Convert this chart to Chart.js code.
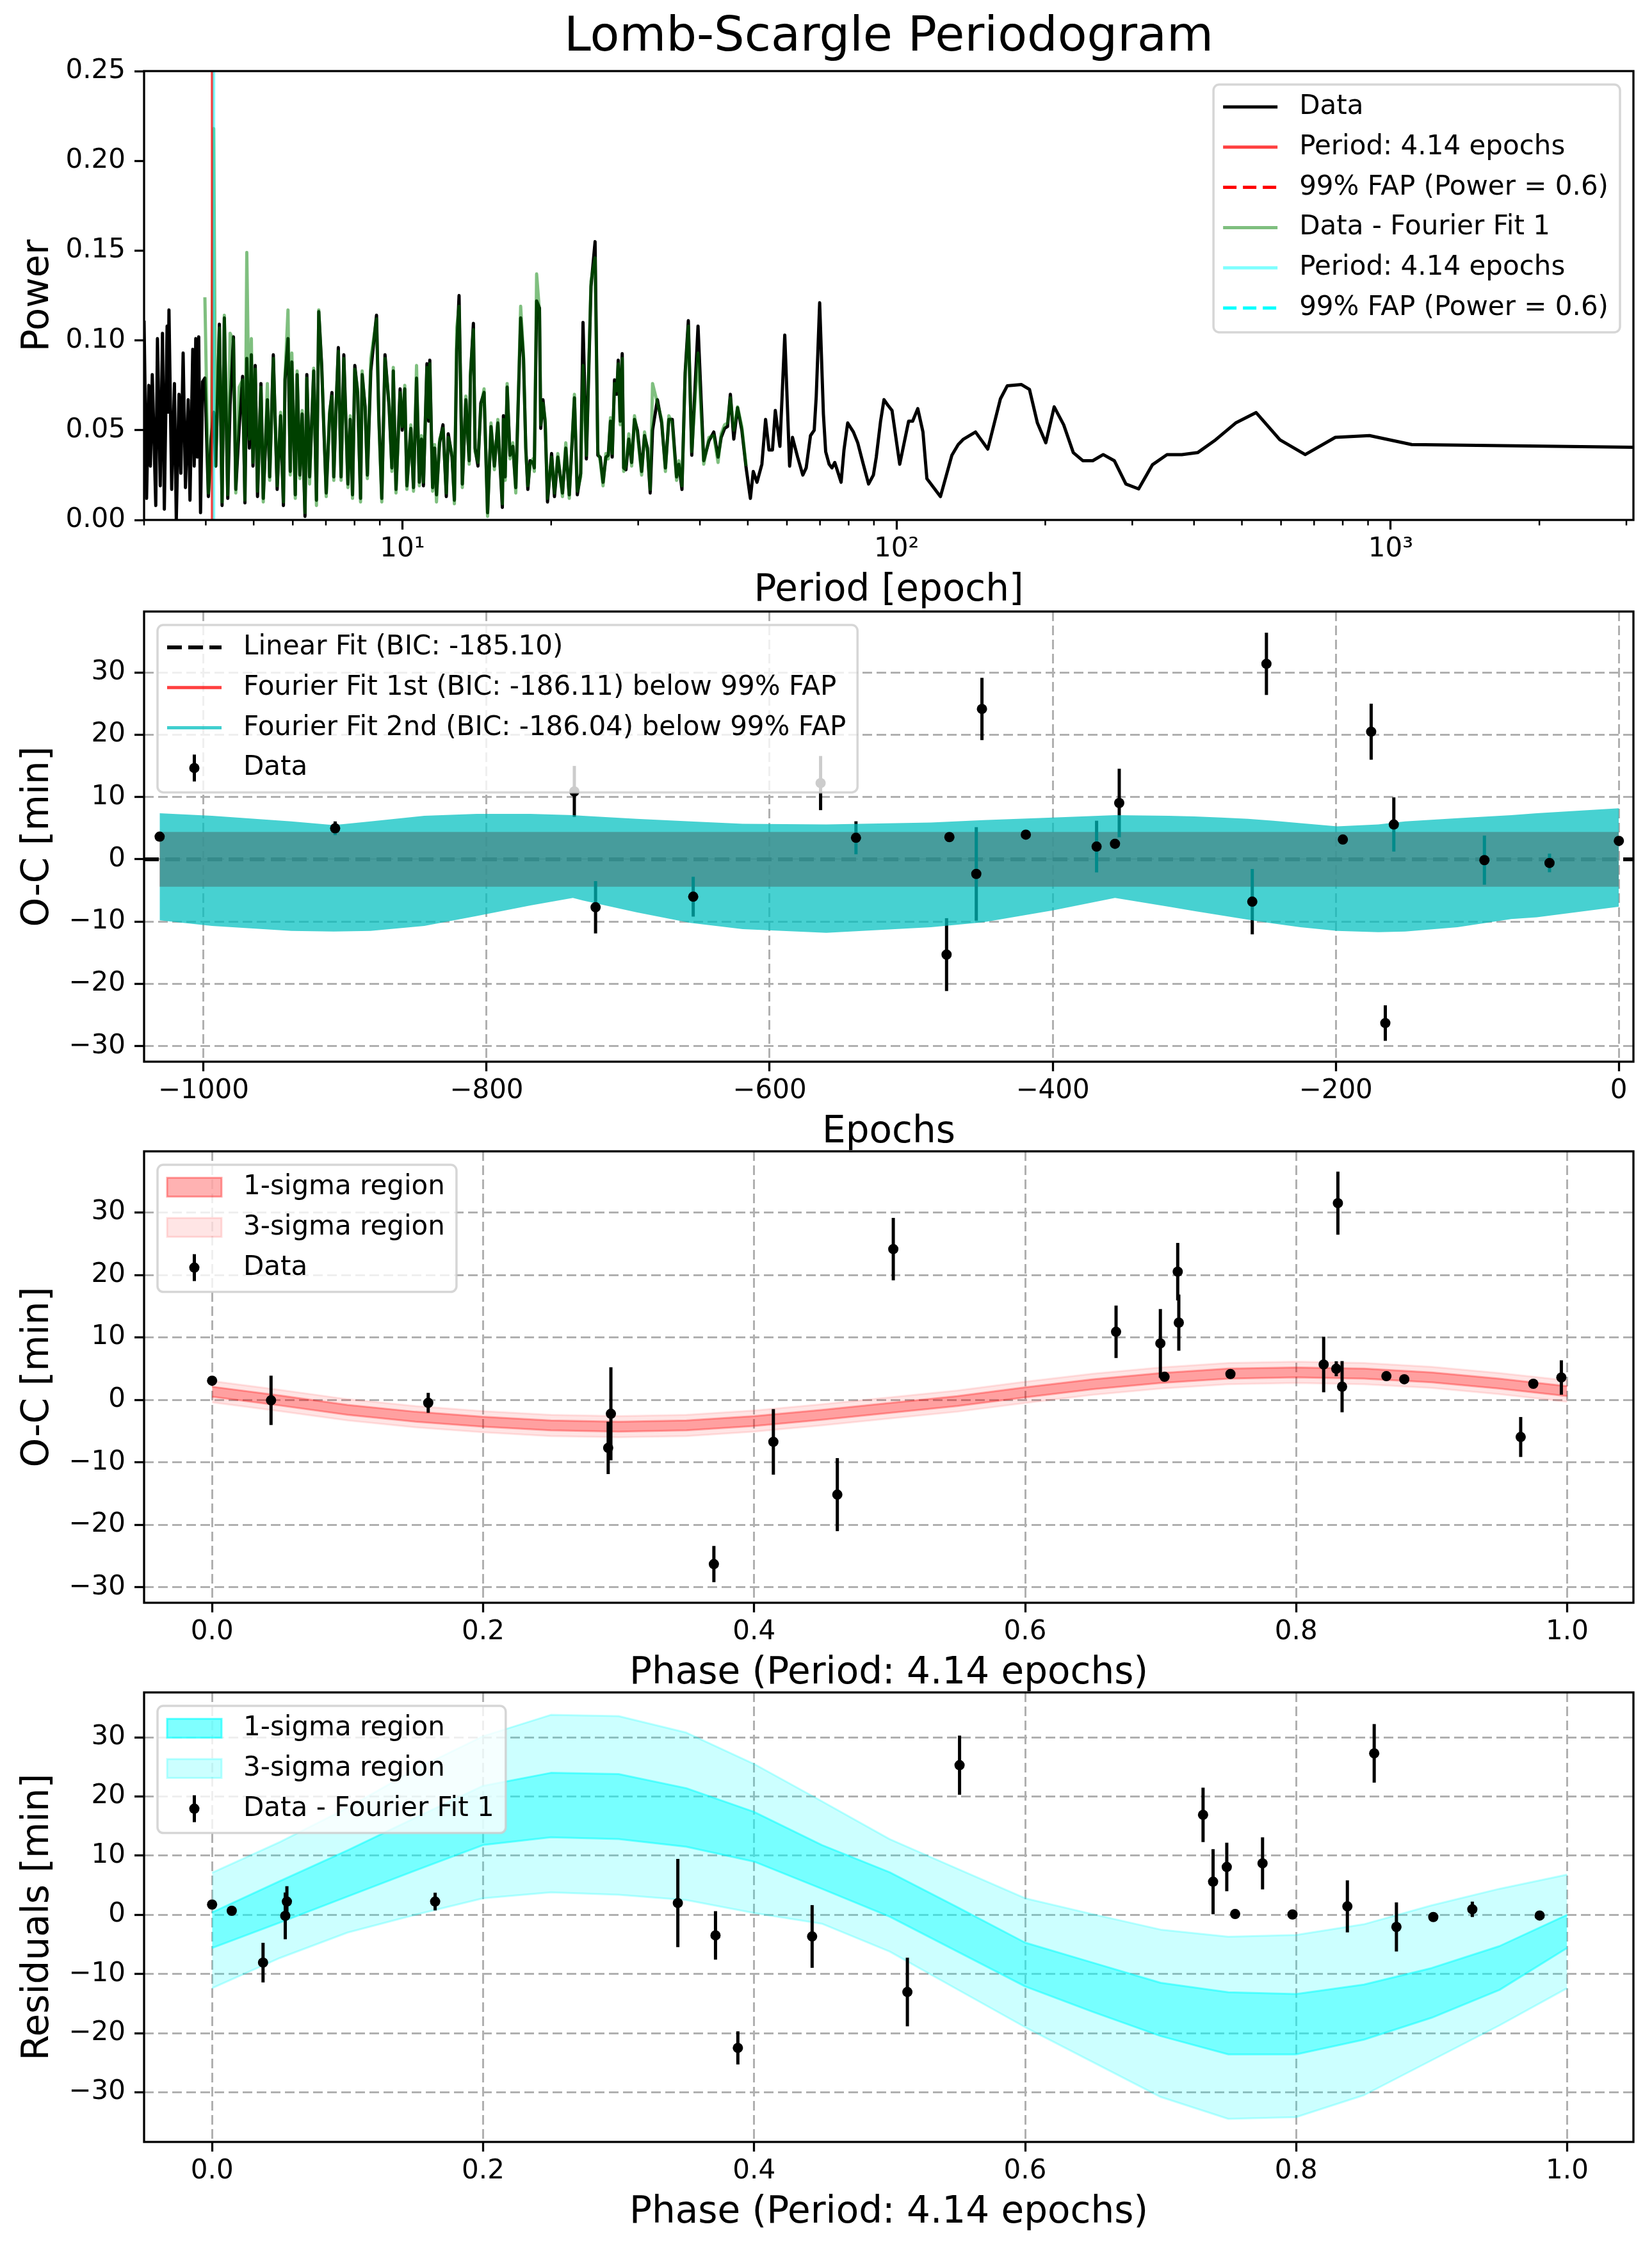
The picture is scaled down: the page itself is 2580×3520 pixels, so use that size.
<!DOCTYPE html>
<html>
<head>
<meta charset="utf-8">
<title>Lomb-Scargle Periodogram</title>
<script src="https://cdn.jsdelivr.net/npm/chart.js@4.4.1/dist/chart.umd.min.js"></script>
<style>
  html, body { margin: 0; padding: 0; background: #fff; }
  body { width: 2580px; height: 3520px; position: relative; overflow: hidden; }
  canvas { position: absolute; left: 0; }
</style>
</head>
<body>
<canvas id="c1" width="2580" height="962" style="top:0px"></canvas>
<canvas id="c2" width="2580" height="893" style="top:915px"></canvas>
<canvas id="c3" width="2580" height="895" style="top:1758px"></canvas>
<canvas id="c4" width="2580" height="892" style="top:2603px"></canvas>
<script>
// ---- periodogram (panel 1) ----
const periods = [
  3.00, 3.035, 3.067, 3.09, 3.117, 3.168, 3.193, 3.235, 3.269, 3.297,
  3.340, 3.355, 3.369, 3.412, 3.456, 3.486, 3.531, 3.561, 3.599, 3.638,
  3.685, 3.716, 3.764, 3.79, 3.817, 3.845, 3.870, 3.903, 3.941,
  3.983, 4.048, 4.10, 4.15, 4.19, 4.261, 4.315, 4.361, 4.431, 4.479,
  4.550, 4.600, 4.674, 4.749, 4.800, 4.842, 4.90, 4.946, 4.983, 5.036,
  5.090, 5.172, 5.228, 5.330, 5.387, 5.479, 5.578, 5.668, 5.743, 5.786,
  5.867, 5.929, 5.973, 6.070, 6.122, 6.201, 6.267, 6.351, 6.405, 6.488,
  6.614, 6.699, 6.771, 6.865, 6.937, 7.011, 7.124, 7.200, 7.262, 7.339,
  7.418, 7.513, 7.610, 7.757, 7.840, 7.925, 8.010, 8.114, 8.227, 8.288,
  8.404, 8.493, 8.630, 8.863, 8.958, 9.083, 9.220, 9.398, 9.521, 9.583,
  9.705, 9.893, 9.99, 10.11, 10.21, 10.40, 10.53, 10.68, 10.82, 10.93,
  11.03, 11.21, 11.30, 11.36, 11.51, 11.62, 11.72, 11.89, 12.08, 12.27,
  12.38, 12.60, 12.74, 12.88, 13.02, 13.22, 13.44, 13.65, 13.73, 13.92,
  14.03, 14.22, 14.41, 14.63, 14.87, 15.11, 15.35, 15.60, 15.93, 16.01,
  16.14, 16.29, 16.51, 16.73, 16.96, 17.35, 17.58, 17.77, 17.94, 18.13,
  18.37, 18.49, 18.69, 18.94, 19.05, 19.25, 19.45, 19.66, 20.04, 20.31,
  20.63, 21.08, 21.41, 21.76, 22.29, 22.59, 22.95, 23.20, 23.57, 24.08,
  24.54, 24.86, 25.13, 25.47, 25.81, 26.09, 26.37, 26.58, 26.87, 27.15,
  27.34, 27.59, 27.85, 28.04, 28.34, 28.72, 29.10, 29.49, 29.89, 30.49,
  30.90, 31.32, 31.73, 32.08, 32.81, 33.47, 34.06, 34.61, 35.17, 35.88,
  36.26, 36.79, 37.34, 37.90, 38.51, 39.65, 40.72, 41.72, 42.67, 43.53,
  44.17, 44.88, 45.49, 46.10, 46.84, 47.67, 48.63, 49.61,
  50.61, 51.29, 52.19, 53.39, 54.32, 55.19, 56.09, 56.84, 58.07, 59.40,
  60.76, 61.58, 63.07, 64.61, 65.64, 66.97, 68.14, 68.79, 69.89, 71.12,
  71.88, 73.05, 74.02, 74.99, 77.24, 78.28, 79.64, 81.79, 83.45, 85.47,
  87.78, 89.78, 90.99, 92.83, 94.32, 95.98, 97.91, 101.5, 105.8, 107.8,
  110.4, 113.1, 115.2, 122.7, 129.4, 133.3, 136.6, 144.5, 153, 162.3,
  167.5, 179, 185.8, 192.8, 200.5, 208.5, 217.9, 227.9, 238.2, 249.5,
  262, 275.9, 291.2, 309, 329.4, 352.7, 377.9, 406.8, 442.2, 485.6,
  534.3, 597, 671.6, 772.7, 906.2, 1103, 3101
];
const powerData = [
  0.111, 0.012, 0.075, 0.030, 0.081, 0.008, 0.101, 0.019, 0.104, 0.006,
  0.108, 0.060, 0.117, 0.017, 0.076, 0.000, 0.070, 0.026, 0.093, 0.018,
  0.067, 0.011, 0.095, 0.030, 0.101, 0.035, 0.102, 0.004, 0.077,
  0.079, 0.013, 0.045, 0.060, 0.030, 0.109, 0.008, 0.1125, 0.012, 0.064,
  0.102, 0.017, 0.052, 0.080, 0.0095, 0.090, 0.040, 0.092, 0.030, 0.086,
  0.013, 0.076, 0.012, 0.067, 0.024, 0.092, 0.017, 0.058, 0.008, 0.078,
  0.101, 0.027, 0.088, 0.014, 0.081, 0.025, 0.059, 0.002, 0.081, 0.024,
  0.083, 0.011, 0.116, 0.086, 0.049, 0.015, 0.059, 0.071, 0.024, 0.062,
  0.096, 0.024, 0.092, 0.020, 0.056, 0.014, 0.086, 0.071, 0.012, 0.081,
  0.063, 0.025, 0.083, 0.114, 0.058, 0.012, 0.092, 0.063, 0.029, 0.083,
  0.017, 0.073, 0.050, 0.073, 0.019, 0.051, 0.018, 0.079, 0.021, 0.045,
  0.019, 0.087, 0.055, 0.089, 0.018, 0.040, 0.014, 0.043, 0.053, 0.013,
  0.048, 0.035, 0.011, 0.095, 0.125, 0.020, 0.067, 0.033, 0.080, 0.1095,
  0.040, 0.030, 0.065, 0.071, 0.004, 0.052, 0.030, 0.054, 0.007, 0.058,
  0.024, 0.074, 0.036, 0.041, 0.018, 0.1125, 0.090, 0.040, 0.017, 0.033,
  0.032, 0.029, 0.122, 0.118, 0.051, 0.067, 0.054, 0.010, 0.037, 0.013,
  0.035, 0.015, 0.040, 0.014, 0.068, 0.014, 0.026, 0.110, 0.034, 0.130,
  0.155, 0.036, 0.035, 0.021, 0.035, 0.036, 0.055, 0.035, 0.078, 0.070,
  0.089, 0.055, 0.0926, 0.029, 0.028, 0.045, 0.032, 0.056, 0.050, 0.027,
  0.047, 0.040, 0.015, 0.050, 0.067, 0.054, 0.029, 0.056, 0.056, 0.024,
  0.031, 0.017, 0.082, 0.111, 0.036, 0.108, 0.033, 0.044, 0.049, 0.035,
  0.046, 0.051, 0.052, 0.070, 0.045, 0.0625, 0.050, 0.029,
  0.012, 0.027, 0.021, 0.031, 0.056, 0.039, 0.039, 0.061, 0.041, 0.103,
  0.030, 0.046, 0.035, 0.025, 0.029, 0.047, 0.050, 0.069, 0.121, 0.059,
  0.038, 0.031, 0.029, 0.032, 0.021, 0.039, 0.054, 0.049, 0.043, 0.032,
  0.020, 0.025, 0.035, 0.055, 0.067, 0.064, 0.061, 0.031, 0.055, 0.055,
  0.062, 0.049, 0.023, 0.013, 0.036, 0.042, 0.045, 0.049, 0.0395, 0.0675,
  0.0747, 0.0754, 0.0727, 0.054, 0.043, 0.063, 0.053, 0.0375, 0.033, 0.033,
  0.0364, 0.033, 0.020, 0.0173, 0.0307, 0.0364, 0.0364, 0.0375, 0.0446, 0.054,
  0.0598, 0.0446, 0.0364, 0.046, 0.047, 0.042, 0.0405
];
// residual periodogram shares the period grid, from periods[residFrom]
const residFrom = 29;
const powerResid = [
  0.124, 0.015, 0.030, 0.218, 0.030, 0.107, 0.010, 0.114, 0.014, 0.104,
  0.100, 0.015, 0.074, 0.078, 0.011, 0.149, 0.045, 0.101, 0.032, 0.084,
  0.016, 0.074, 0.010, 0.076, 0.022, 0.090, 0.019, 0.060, 0.010, 0.080,
  0.117, 0.025, 0.093, 0.012, 0.083, 0.023, 0.061, 0.004, 0.079, 0.020,
  0.0845, 0.008, 0.117, 0.084, 0.051, 0.013, 0.061, 0.069, 0.022, 0.064,
  0.094, 0.022, 0.090, 0.018, 0.058, 0.012, 0.084, 0.073, 0.010, 0.083,
  0.061, 0.023, 0.090, 0.112, 0.056, 0.010, 0.090, 0.065, 0.027, 0.085,
  0.015, 0.071, 0.052, 0.075, 0.017, 0.053, 0.016, 0.086, 0.019, 0.047,
  0.021, 0.085, 0.057, 0.087, 0.016, 0.042, 0.010, 0.045, 0.051, 0.015,
  0.046, 0.037, 0.009, 0.107, 0.119, 0.018, 0.069, 0.031, 0.082, 0.106,
  0.038, 0.032, 0.063, 0.073, 0.002, 0.054, 0.028, 0.056, 0.009, 0.056,
  0.022, 0.076, 0.034, 0.043, 0.015, 0.119, 0.092, 0.038, 0.019, 0.031,
  0.034, 0.027, 0.137, 0.116, 0.053, 0.065, 0.056, 0.012, 0.035, 0.015,
  0.037, 0.013, 0.043, 0.012, 0.070, 0.016, 0.024, 0.086, 0.036, 0.133,
  0.146, 0.038, 0.033, 0.019, 0.037, 0.034, 0.057, 0.037, 0.076, 0.072,
  0.087, 0.053, 0.090, 0.027, 0.030, 0.048, 0.030, 0.058, 0.048, 0.025,
  0.049, 0.038, 0.017, 0.076, 0.065, 0.056, 0.027, 0.058, 0.054, 0.022,
  0.033, 0.019, 0.080, 0.108, 0.038, 0.093, 0.031, 0.046, 0.047, 0.032,
  0.048, 0.053, 0.054, 0.068, 0.050, 0.063, 0.052, 0.030
];
const bestPeriodData = 4.12;
const bestPeriodResid = 4.155;
const fapPower = 0.6;
const periodRange = [3, 3100];
const powerRange = [0, 0.25];
const powerTicks = [0, 0.05, 0.10, 0.15, 0.20, 0.25];
const periodMajorTicks = [10, 100, 1000];
const periodMajorLabels = ['10\u00b9', '10\u00b2', '10\u00b3'];
const periodMinorTicks = [3, 4, 5, 6, 7, 8, 9, 20, 30, 40, 50, 60, 70, 80, 90,
  200, 300, 400, 500, 600, 700, 800, 900, 2000, 3000];

// ---- O-C vs epoch (panel 2) ----
const epochs = [-1031, -907, -738, -723, -654, -564, -539, -473, -475, -454, -450, -419,
  -369, -356, -353, -259, -249, -195, -175, -165, -159, -95, -49, 0];
const ocValues = [3.64, 4.99, 10.9, -7.7, -6.0, 12.25, 3.46, 3.57, -15.3, -2.34, 24.15, 3.97,
  2.05, 2.5, 9.05, -6.8, 31.4, 3.18, 20.5, -26.3, 5.6, -0.13, -0.58, 2.96];
const ocErrors = [0.5, 1.1, 4.1, 4.2, 3.2, 4.35, 2.65, 0.6, 5.85, 7.5, 5.0, 0.5,
  4.15, 0.8, 5.5, 5.25, 5.0, 0.5, 4.5, 2.85, 4.35, 3.95, 1.5, 0.5];
const linearEpochs = [-1042, 10];
const linearValues = [0, 0];
const fit1Epochs = [-1031, 0];
const fit1Upper = [4.4, 4.4];
const fit1Lower = [-4.4, -4.4];
const fit2Epochs = [-1031, -994, -938, -908, -882, -844, -807, -769, -739, -732, -694, -656,
  -619, -560, -486, -449, -400, -356, -318, -300, -281, -262, -244, -225, -199, -170,
  -151, -114, -76, -58, 0];
const fit2Upper = [7.4, 7.0, 6.1, 5.5, 6.1, 7.0, 7.3, 7.3, 7.1, 7.0, 6.5, 6.1,
  5.7, 5.6, 5.9, 6.3, 6.7, 7.1, 7.0, 6.9, 6.7, 6.5, 6.2, 5.8, 5.3, 5.6,
  6.1, 6.6, 7.1, 7.4, 8.2];
const fit2Lower = [-9.8, -10.7, -11.5, -11.6, -11.5, -10.7, -9.1, -7.4, -6.2, -6.6, -8.5, -10.2,
  -11.2, -11.8, -10.9, -10.1, -8.2, -6.2, -7.6, -8.3, -9.0, -9.7, -10.3, -10.9, -11.5, -11.7,
  -11.6, -10.9, -9.6, -9.3, -7.6];
const epochRange = [-1042, 10.3];
const epochTicks = [-1000, -800, -600, -400, -200, 0];
const ocRange = [-32.5, 39.8];
const ocTicks = [-30, -20, -10, 0, 10, 20, 30];

// ---- O-C vs phase (panel 3) ----
const phases = [0.0, 0.0435, 0.1595, 0.2943, 0.2923, 0.3703, 0.4142, 0.4614, 0.5027, 0.6671,
  0.6998, 0.7029, 0.7126, 0.7134, 0.7515, 0.8203, 0.8296, 0.8308, 0.8339, 0.8666,
  0.8798, 0.9657, 0.975, 0.9957];
const phaseOc = [3.07, -0.08, -0.48, -2.23, -7.69, -26.3, -6.73, -15.18, 24.14, 10.9,
  9.04, 3.69, 20.53, 12.37, 4.14, 5.66, 4.98, 31.5, 2.11, 3.8,
  3.3, -5.95, 2.57, 3.58];
const phaseOcErr = [0.5, 3.95, 1.6, 7.45, 4.2, 2.9, 5.25, 5.85, 5.0, 4.2,
  5.5, 0.6, 4.6, 4.5, 0.5, 4.45, 1.2, 5.05, 4.1, 0.5,
  0.5, 3.2, 0.6, 2.75];
const bandPhases = [0, 0.05, 0.1, 0.15, 0.2, 0.25, 0.3, 0.35, 0.4, 0.45, 0.5,
  0.55, 0.6, 0.65, 0.7, 0.75, 0.8, 0.85, 0.9, 0.95, 1.0];
const ocSig1Hi = [2.1, 0.7, -0.8, -1.9, -2.7, -3.3, -3.5, -3.3, -2.6, -1.6, -0.5,
  0.6, 2.0, 3.3, 4.3, 5.0, 5.2, 5.0, 4.4, 3.4, 2.2];
const ocSig1Lo = [0.5, -0.9, -2.4, -3.5, -4.3, -4.9, -5.1, -4.9, -4.2, -3.2, -2.1,
  -1.0, 0.4, 1.7, 2.7, 3.4, 3.6, 3.4, 2.8, 1.8, 0.6];
const ocSig3Hi = [3.0, 1.6, 0.1, -1.0, -1.8, -2.4, -2.6, -2.4, -1.7, -0.7, 0.4,
  1.5, 2.9, 4.2, 5.2, 5.9, 6.1, 5.9, 5.3, 4.3, 3.1];
const ocSig3Lo = [-0.4, -1.8, -3.3, -4.4, -5.2, -5.8, -6.0, -5.8, -5.1, -4.1, -3.0,
  -1.9, -0.5, 0.8, 1.8, 2.5, 2.7, 2.5, 1.9, 0.9, -0.3];
const phaseRange = [-0.0502, 1.0489];
const phaseTicks = [0, 0.2, 0.4, 0.6, 0.8, 1.0];

// ---- residuals vs phase (panel 4) ----
const resPhases = [0.0, 0.0145, 0.0376, 0.0552, 0.0540, 0.1646, 0.3437, 0.3715, 0.388, 0.4428,
  0.5131, 0.5516, 0.7313, 0.7387, 0.7488, 0.755, 0.7752, 0.7973, 0.8378, 0.8576,
  0.874, 0.9012, 0.93, 0.9797];
const resValues = [1.74, 0.68, -8.08, 2.24, -0.18, 2.24, 1.99, -3.48, -22.5, -3.66,
  -13.05, 25.3, 16.9, 5.6, 8.09, 0.13, 8.7, 0.06, 1.43, 27.3,
  -2.05, -0.37, 0.93, -0.12];
const resErrors = [0.5, 0.5, 3.35, 2.6, 3.95, 1.5, 7.45, 4.1, 2.8, 5.3,
  5.8, 5.0, 4.6, 5.5, 4.1, 0.5, 4.4, 0.5, 4.4, 4.95,
  4.15, 0.5, 1.3, 0.5];
const resSig1Hi = [0.4, 5.7, 10.9, 16.4, 21.8, 24.0, 23.8, 21.4, 17.4, 11.8, 7.2,
  1.3, -4.7, -8.1, -11.5, -13.1, -13.4, -11.8, -9.0, -5.3, 0.0];
const resSig1Lo = [-5.6, -1.3, 3.1, 7.5, 11.8, 13.1, 12.8, 11.5, 9.0, 4.4, -0.3,
  -6.2, -12.1, -16.4, -20.5, -23.6, -23.6, -21.1, -17.4, -12.7, -5.6];
const resSig3Hi = [7.1, 12.3, 18.1, 24.6, 30.2, 33.8, 33.6, 30.8, 25.5, 19.2, 12.8,
  7.8, 2.8, 0.1, -2.5, -3.7, -3.4, -1.6, 1.6, 4.4, 6.8];
const resSig3Lo = [-12.4, -7.3, -3.0, 0.0, 2.8, 3.8, 3.4, 2.5, 0.3, -1.5, -6.2,
  -12.6, -19.0, -24.9, -30.8, -34.5, -34.2, -30.5, -24.6, -18.7, -12.4];
const resRange = [-38.4, 37.6];

// ---- helpers ----
Chart.defaults.font.family = '"DejaVu Sans", sans-serif';
Chart.defaults.color = '#000';
Chart.defaults.elements.point.radius = 0;

const pts = (xs, ys) => xs.map((x, i) => ({x: x, y: ys[i]}));
const minus = v => String(v).replace('-', '\u2212');

function line(label, data, color, width, order, extra) {
  return Object.assign({type: 'line', label: label, data: data, borderColor: color,
    backgroundColor: color, borderWidth: width, pointRadius: 0, tension: 0, fill: false,
    borderJoinStyle: 'round', order: order}, extra || {});
}

function axisX(type, range, ticks, fmt, title, gridOn) {
  return {
    type: type, position: 'bottom', min: range[0], max: range[1], bounds: 'data',
    afterBuildTicks: s => { s.ticks = ticks.map(v => ({value: v})); },
    afterFit: s => { s.height = 150; },
    ticks: {font: {size: 42}, color: '#000', padding: 6, autoSkip: false,
      maxRotation: 0, minRotation: 0, callback: fmt},
    grid: {drawOnChartArea: gridOn, color: '#b0b0b0', lineWidth: 3, tickLength: 15,
      tickWidth: 3.3, tickColor: '#000'},
    border: {display: false, dash: [15, 7]},
    title: {display: true, text: title, color: '#000', font: {size: 58},
      padding: {top: 0, bottom: 4}}
  };
}

function axisY(range, ticks, fmt, title, gridOn) {
  return {
    type: 'linear', position: 'left', min: range[0], max: range[1], bounds: 'data',
    afterBuildTicks: s => { s.ticks = ticks.map(v => ({value: v})); },
    afterFit: s => { s.width = 225; },
    ticks: {font: {size: 42}, color: '#000', padding: 14, autoSkip: false, callback: fmt},
    grid: {drawOnChartArea: gridOn, color: '#b0b0b0', lineWidth: 3, tickLength: 15,
      tickWidth: 3.3, tickColor: '#000'},
    border: {display: false, dash: [15, 7]},
    title: {display: true, text: title, color: '#000', font: {size: 58},
      padding: {top: 25, bottom: 0}}
  };
}

// axes box + minor ticks
const frame = {
  id: 'frame',
  afterDatasetsDraw(chart, args, o) {
    const ctx = chart.ctx, a = chart.chartArea;
    ctx.save();
    ctx.strokeStyle = '#000';
    ctx.lineWidth = 3.3;
    ctx.strokeRect(a.left, a.top, a.right - a.left, a.bottom - a.top);
    if (o.minor) {
      const xs = chart.scales.x;
      ctx.lineWidth = 2.5;
      o.minor.forEach(v => {
        const px = xs.getPixelForValue(v);
        if (px < a.left || px > a.right) return;
        ctx.beginPath();
        ctx.moveTo(px, a.bottom);
        ctx.lineTo(px, a.bottom + 8.5);
        ctx.stroke();
      });
    }
    ctx.restore();
  }
};

// vertical error bars for a point dataset
const errorBars = {
  id: 'errorBars',
  beforeDatasetDraw(chart, args, o) {
    if (o.source === undefined || args.index !== o.drawBefore) return;
    const ds = chart.data.datasets[o.source];
    const ctx = chart.ctx, a = chart.chartArea;
    const xs = chart.scales.x, ys = chart.scales.y;
    ctx.save();
    ctx.beginPath();
    ctx.rect(a.left, a.top, a.right - a.left, a.bottom - a.top);
    ctx.clip();
    ctx.strokeStyle = '#000';
    ctx.lineWidth = 5;
    ds.data.forEach((p, i) => {
      const e = ds.errors[i];
      const x = xs.getPixelForValue(p.x);
      ctx.beginPath();
      ctx.moveTo(x, ys.getPixelForValue(p.y - e));
      ctx.lineTo(x, ys.getPixelForValue(p.y + e));
      ctx.stroke();
    });
    ctx.restore();
  }
};

// matplotlib-like framed legend inside the axes
const boxLegend = {
  id: 'boxLegend',
  afterDraw(chart, args, o) {
    if (!o.items) return;
    const ctx = chart.ctx, a = chart.chartArea;
    const dss = chart.data.datasets;
    const padX = 15, handle = 85, gap = 34, rowH = 62.8, padTop = 35, padBot = 38;
    ctx.save();
    ctx.font = '42px "DejaVu Sans", sans-serif';
    const labels = o.items.map(i => dss[i].label);
    const tw = Math.max.apply(null, labels.map(t => ctx.measureText(t).width));
    const w = padX + handle + gap + tw + 18;
    const h = padTop + rowH * (labels.length - 1) + padBot;
    const x0 = o.align === 'right' ? a.right - 21 - w : a.left + 21;
    const y0 = a.top + 21;
    const r = 9;
    ctx.beginPath();
    ctx.moveTo(x0 + r, y0);
    ctx.arcTo(x0 + w, y0, x0 + w, y0 + h, r);
    ctx.arcTo(x0 + w, y0 + h, x0, y0 + h, r);
    ctx.arcTo(x0, y0 + h, x0, y0, r);
    ctx.arcTo(x0, y0, x0 + w, y0, r);
    ctx.closePath();
    ctx.fillStyle = 'rgba(255,255,255,0.8)';
    ctx.fill();
    ctx.lineWidth = 3.5;
    ctx.strokeStyle = 'rgba(204,204,204,0.8)';
    ctx.stroke();
    o.items.forEach((idx, i) => {
      const st = dss[idx].legendStyle;
      const cy = y0 + padTop + i * rowH;
      const hx = x0 + padX;
      if (st.kind === 'line') {
        ctx.beginPath();
        ctx.setLineDash(st.dash || []);
        ctx.lineWidth = st.width;
        ctx.strokeStyle = st.color;
        ctx.moveTo(hx, cy);
        ctx.lineTo(hx + handle, cy);
        ctx.stroke();
        ctx.setLineDash([]);
      } else if (st.kind === 'patch') {
        ctx.fillStyle = st.fill;
        ctx.fillRect(hx, cy - 14.7, handle, 29.4);
        ctx.lineWidth = 3;
        ctx.strokeStyle = st.edge;
        ctx.strokeRect(hx, cy - 14.7, handle, 29.4);
      } else if (st.kind === 'err') {
        const cx = hx + handle / 2;
        ctx.beginPath();
        ctx.lineWidth = 5;
        ctx.strokeStyle = '#000';
        ctx.moveTo(cx, cy - 21);
        ctx.lineTo(cx, cy + 21);
        ctx.stroke();
        ctx.beginPath();
        ctx.fillStyle = '#000';
        ctx.arc(cx, cy, 8, 0, Math.PI * 2);
        ctx.fill();
      }
      ctx.fillStyle = '#000';
      ctx.textAlign = 'left';
      ctx.textBaseline = 'middle';
      ctx.fillText(labels[i], hx + handle + gap, cy);
    });
    ctx.restore();
  }
};

function baseOptions(xAxis, yAxis, pluginOpts, top) {
  return {
    responsive: false, devicePixelRatio: 1, animation: false, events: [],
    layout: {padding: {left: 0, right: 29, top: top, bottom: 0}},
    scales: {x: xAxis, y: yAxis},
    plugins: Object.assign({legend: {display: false}, tooltip: {enabled: false}}, pluginOpts)
  };
}

function markers(label, xs, ys, errs, order) {
  return {type: 'line', label: label, data: pts(xs, ys), errors: errs, showLine: false,
    pointRadius: 8, pointBackgroundColor: '#000', pointBorderWidth: 0,
    borderColor: '#000', order: order, legendStyle: {kind: 'err'}};
}

const none = 'rgba(0,0,0,0)';

// ---- panel 1 ----
new Chart(document.getElementById('c1'), {
  type: 'line',
  data: {datasets: [
    line('Data', pts(periods, powerData), '#000', 5, 6,
      {legendStyle: {kind: 'line', color: '#000', width: 5}}),
    line('Data - Fourier Fit 1',
      powerResid.map((v, i) => ({x: periods[residFrom + i], y: v})),
      'rgba(0,128,0,0.5)', 5, 5,
      {legendStyle: {kind: 'line', color: 'rgba(0,128,0,0.5)', width: 5}}),
    line('Period: 4.14 epochs', pts([bestPeriodData, bestPeriodData], powerRange),
      'rgba(255,0,0,0.75)', 4, 4,
      {legendStyle: {kind: 'line', color: 'rgba(255,0,0,0.75)', width: 5}}),
    line('99% FAP (Power = 0.6)', pts(periodRange, [fapPower, fapPower]), '#ff0000', 5, 3,
      {borderDash: [21, 10], legendStyle: {kind: 'line', color: '#ff0000', width: 5, dash: [21, 10]}}),
    line('Period: 4.14 epochs', pts([bestPeriodResid, bestPeriodResid], powerRange),
      'rgba(0,255,255,0.5)', 4, 2,
      {legendStyle: {kind: 'line', color: 'rgba(0,255,255,0.5)', width: 5}}),
    line('99% FAP (Power = 0.6)', pts(periodRange, [fapPower, fapPower]), '#00ffff', 5, 1,
      {borderDash: [21, 10], legendStyle: {kind: 'line', color: '#00ffff', width: 5, dash: [21, 10]}})
  ]},
  options: baseOptions(
    axisX('logarithmic', periodRange, periodMajorTicks,
      v => periodMajorLabels[periodMajorTicks.indexOf(v)] || '', 'Period [epoch]', false),
    axisY(powerRange, powerTicks, v => v.toFixed(2), 'Power', false),
    {
      title: {display: true, text: 'Lomb-Scargle Periodogram', color: '#000', fullSize: false,
        font: {size: 75, weight: 'normal'}, padding: {top: 14.5, bottom: 6.5}},
      frame: {minor: periodMinorTicks},
      boxLegend: {align: 'right', items: [0, 2, 3, 1, 4, 5]}
    }, 0),
  plugins: [frame, errorBars, boxLegend]
});

// ---- panel 2 ----
new Chart(document.getElementById('c2'), {
  type: 'line',
  data: {datasets: [
    line('Linear Fit (BIC: -185.10)', pts(linearEpochs, linearValues), '#000', 6, 5,
      {borderDash: [23, 10], legendStyle: {kind: 'line', color: '#000', width: 6, dash: [23, 10]}}),
    line('Fourier Fit 1st (BIC: -186.11) below 99% FAP', pts(fit1Epochs, fit1Upper), none, 0, 4,
      {fill: '+1', backgroundColor: 'rgba(255,0,0,0.75)',
       legendStyle: {kind: 'line', color: 'rgba(255,0,0,0.75)', width: 5}}),
    line('', pts(fit1Epochs, fit1Lower), none, 0, 4),
    line('Fourier Fit 2nd (BIC: -186.04) below 99% FAP', pts(fit2Epochs, fit2Upper), none, 0, 3,
      {fill: '+1', backgroundColor: 'rgba(0,191,191,0.72)',
       legendStyle: {kind: 'line', color: 'rgba(0,191,191,0.75)', width: 5}}),
    line('', pts(fit2Epochs, fit2Lower), none, 0, 3),
    markers('Data', epochs, ocValues, ocErrors, 1)
  ]},
  options: baseOptions(
    axisX('linear', epochRange, epochTicks, minus, 'Epochs', true),
    axisY(ocRange, ocTicks, minus, 'O-C [min]', true),
    {
      errorBars: {source: 5, drawBefore: 1},
      boxLegend: {align: 'left', items: [0, 1, 3, 5]}
    }, 40),
  plugins: [frame, errorBars, boxLegend]
});

// ---- panel 3 ----
new Chart(document.getElementById('c3'), {
  type: 'line',
  data: {datasets: [
    line('3-sigma region', pts(bandPhases, ocSig3Hi), 'rgba(255,0,0,0.1)', 3, 3,
      {fill: '+1', backgroundColor: 'rgba(255,0,0,0.1)',
       legendStyle: {kind: 'patch', fill: 'rgba(255,0,0,0.1)', edge: 'rgba(255,0,0,0.12)'}}),
    line('', pts(bandPhases, ocSig3Lo), 'rgba(255,0,0,0.1)', 3, 3),
    line('1-sigma region', pts(bandPhases, ocSig1Hi), 'rgba(255,0,0,0.3)', 3, 2,
      {fill: '+1', backgroundColor: 'rgba(255,0,0,0.3)',
       legendStyle: {kind: 'patch', fill: 'rgba(255,0,0,0.3)', edge: 'rgba(255,0,0,0.35)'}}),
    line('', pts(bandPhases, ocSig1Lo), 'rgba(255,0,0,0.3)', 3, 2),
    markers('Data', phases, phaseOc, phaseOcErr, 1)
  ]},
  options: baseOptions(
    axisX('linear', phaseRange, phaseTicks, v => v.toFixed(1), 'Phase (Period: 4.14 epochs)', true),
    axisY(ocRange, ocTicks, minus, 'O-C [min]', true),
    {
      errorBars: {source: 4, drawBefore: 4},
      boxLegend: {align: 'left', items: [2, 0, 4]}
    }, 40),
  plugins: [frame, errorBars, boxLegend]
});

// ---- panel 4 ----
new Chart(document.getElementById('c4'), {
  type: 'line',
  data: {datasets: [
    line('3-sigma region', pts(bandPhases, resSig3Hi), 'rgba(0,255,255,0.25)', 3, 3,
      {fill: '+1', backgroundColor: 'rgba(0,255,255,0.2)',
       legendStyle: {kind: 'patch', fill: 'rgba(0,255,255,0.2)', edge: 'rgba(0,255,255,0.25)'}}),
    line('', pts(bandPhases, resSig3Lo), 'rgba(0,255,255,0.25)', 3, 3),
    line('1-sigma region', pts(bandPhases, resSig1Hi), 'rgba(0,255,255,0.5)', 3, 2,
      {fill: '+1', backgroundColor: 'rgba(0,255,255,0.42)',
       legendStyle: {kind: 'patch', fill: 'rgba(0,255,255,0.5)', edge: 'rgba(0,255,255,0.6)'}}),
    line('', pts(bandPhases, resSig1Lo), 'rgba(0,255,255,0.5)', 3, 2),
    markers('Data - Fourier Fit 1', resPhases, resValues, resErrors, 1)
  ]},
  options: baseOptions(
    axisX('linear', phaseRange, phaseTicks, v => v.toFixed(1), 'Phase (Period: 4.14 epochs)', true),
    axisY(resRange, ocTicks, minus, 'Residuals [min]', true),
    {
      errorBars: {source: 4, drawBefore: 4},
      boxLegend: {align: 'left', items: [2, 0, 4]}
    }, 40),
  plugins: [frame, errorBars, boxLegend]
});
</script>
</body>
</html>
